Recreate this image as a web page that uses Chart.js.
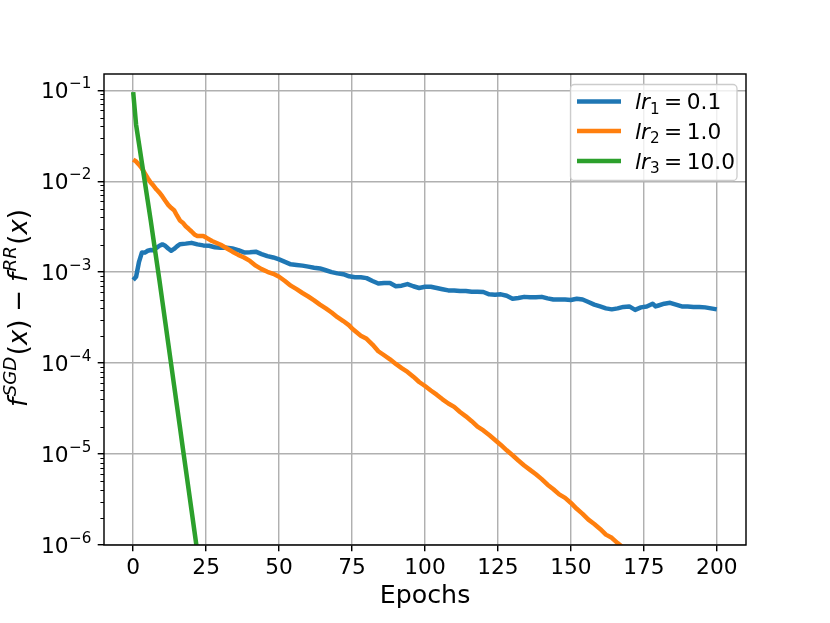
<!DOCTYPE html>
<html>
<head>
<meta charset="utf-8">
<script src="https://cdn.jsdelivr.net/npm/chart.js@4.4.0/dist/chart.umd.min.js"></script>
<style>
html,body{margin:0;padding:0;background:#fff;}
canvas{display:block;}
</style>
</head>
<body>
<canvas id="c" width="830" height="623"></canvas>
<script>
// ---------------- DATA ----------------
const xTickValues = [0, 25, 50, 75, 100, 125, 150, 175, 200];
const yTickValues = [1e-6, 1e-5, 1e-4, 1e-3, 1e-2, 1e-1];
const yTickExponents = ['−6', '−5', '−4', '−3', '−2', '−1'];

const legendSubs = ['1', '2', '3'];
const legendValues = ['0.1', '1.0', '10.0'];

const blueEpochs = [0,1,2,3,4,5,6,7,8,9,10,11,12,13,14,15,16,18,20,22,24,26,28,30,32,34,36,38,40,42,44,46,48,50,52,54,56,58,60,62,64,66,68,70,72,74,76,78,80,82,84,86,88,90,92,94,96,98,100,102,104,106,108,110,112,114,116,118,120,122,124,126,128,130,132,134,136,138,140,142,144,146,148,150,152,154,156,158,160,162,164,166,168,170,172,174,176,178,179,180,182,184,186,188,190,192,194,196,198,200];
const blueValues = [8.2e-4,8.9e-4,1.3e-3,1.65e-3,1.64e-3,1.72e-3,1.75e-3,1.74e-3,1.85e-3,1.95e-3,2.02e-3,1.95e-3,1.82e-3,1.72e-3,1.8e-3,1.92e-3,2.03e-3,2.06e-3,2.1e-3,2.02e-3,1.97e-3,1.95e-3,1.88e-3,1.85e-3,1.86e-3,1.82e-3,1.75e-3,1.65e-3,1.66e-3,1.68e-3,1.58e-3,1.5e-3,1.45e-3,1.38e-3,1.3e-3,1.22e-3,1.2e-3,1.18e-3,1.15e-3,1.12e-3,1.1e-3,1.05e-3,1.0e-3,9.7e-4,9.5e-4,9.0e-4,8.8e-4,8.8e-4,8.6e-4,8.0e-4,7.5e-4,7.6e-4,7.6e-4,7.0e-4,7.1e-4,7.4e-4,7.0e-4,6.7e-4,6.9e-4,6.9e-4,6.7e-4,6.5e-4,6.3e-4,6.3e-4,6.2e-4,6.2e-4,6.1e-4,6.1e-4,6.05e-4,5.7e-4,5.65e-4,5.7e-4,5.5e-4,5.1e-4,5.2e-4,5.35e-4,5.3e-4,5.3e-4,5.35e-4,5.15e-4,5.0e-4,5.0e-4,5.0e-4,4.95e-4,5.1e-4,5.0e-4,4.7e-4,4.4e-4,4.2e-4,4.0e-4,3.9e-4,4.0e-4,4.15e-4,4.2e-4,3.85e-4,4.1e-4,4.2e-4,4.5e-4,4.2e-4,4.3e-4,4.5e-4,4.6e-4,4.4e-4,4.2e-4,4.2e-4,4.15e-4,4.15e-4,4.1e-4,4.0e-4,3.9e-4];

const orangeEpochs = [0,1,2,3,4,5,6,7,8,9,10,11,12,13,14,15,16,17,18,19,20,21,22,24,25,27,30,32,34,36,38,40,42,44,46,48,50,52,54,56,58,60,62,64,66,68,70,72,74,75,78,80,82,84,86,88,90,92,94,96,98,100,102,104,106,108,110,112,114,116,118,120,122,124,126,128,130,132,134,136,138,140,142,144,146,148,150,152,154,156,158,160,162,164,166,168,170];
const orangeValues = [0.0173,0.0165,0.0152,0.0138,0.0122,0.0108,0.0097,0.0089,0.0081,0.0075,0.0068,0.0061,0.0055,0.0051,0.0048,0.0042,0.0037,0.0035,0.0032,0.0030,0.0028,0.0026,0.0025,0.0025,0.0024,0.0022,0.0020,0.00183,0.00168,0.00155,0.00145,0.00133,0.00118,0.00108,0.00101,0.00096,0.00089,0.00080,0.00071,0.00065,0.00059,0.00054,0.00049,0.00044,0.00040,0.00036,0.00032,0.00029,0.00026,0.00024,0.00020,0.000185,0.000160,0.000135,0.000122,0.000110,0.000098,0.000088,0.000080,0.000071,0.000062,0.000056,0.000050,0.000045,0.000040,0.000036,0.000033,0.000029,0.000026,0.000023,0.000020,0.0000182,0.0000162,0.0000143,0.0000126,0.0000110,0.0000097,0.0000085,0.0000075,0.0000067,0.0000060,0.0000053,0.0000046,0.0000041,0.0000036,0.0000033,0.0000029,0.0000025,0.0000022,0.0000019,0.0000017,0.0000015,0.0000013,0.0000012,0.00000105,0.00000093,0.00000082];

const greenEpochs = [0,1,2,3,4,5,6,7,8,9,10,11,12,13,14,15,16,17,18,19,20,21,22];
const greenValues = [0.0955,0.0417,0.0257,0.0158,0.00977,0.00603,0.00372,0.00224,0.00135,8.13e-4,4.79e-4,2.82e-4,1.66e-4,9.77e-5,5.75e-5,3.39e-5,2.0e-5,1.17e-5,6.92e-6,4.07e-6,2.4e-6,1.41e-6,8.3e-7];

// ---------------- STYLE ----------------
const COLORS = ['#1f77b4', '#ff7f0e', '#2ca02c'];
const FONT = '"DejaVu Sans", "Liberation Sans", sans-serif';
const TICK_PX = 21.7;
const LABEL_PX = 26;
const LW = 4.5;

function pts(xs, ys) { return xs.map((x, i) => ({x: x, y: ys[i]})); }

function fontStr(size, italic) { return (italic ? 'italic ' : '') + size + 'px ' + FONT; }

function runsWidth(ctx, runs) {
  let w = 0;
  runs.forEach(r => { ctx.font = fontStr(r.size, r.italic); w += (r.dx || 0) + ctx.measureText(r.t).width; });
  return w;
}
function drawRuns(ctx, runs, x, y) {
  let cx = x;
  runs.forEach(r => {
    ctx.font = fontStr(r.size, r.italic);
    cx += (r.dx || 0);
    ctx.fillText(r.t, cx, y + (r.dy || 0));
    cx += ctx.measureText(r.t).width;
  });
}

const decorPlugin = {
  id: 'decor',
  afterDraw(chart) {
    const ctx = chart.ctx;
    const a = chart.chartArea;
    const ys = chart.scales.y;
    ctx.save();
    ctx.fillStyle = '#000';
    ctx.strokeStyle = '#000';
    // frame
    ctx.lineWidth = 1.44;
    ctx.strokeRect(a.left, a.top, a.right - a.left, a.bottom - a.top);
    // minor y ticks
    ctx.lineWidth = 1.0;
    for (let d = -6; d <= -1; d++) {
      for (let k = 2; k <= 9; k++) {
        const v = k * Math.pow(10, d);
        if (v > ys.max) continue;
        const py = Math.round(ys.getPixelForValue(v)) + 0.5;
        ctx.beginPath(); ctx.moveTo(a.left - 3.6, py); ctx.lineTo(a.left, py); ctx.stroke();
      }
    }
    // y tick labels
    ctx.textAlign = 'left';
    ctx.textBaseline = 'alphabetic';
    yTickValues.forEach((v, i) => {
      const py = ys.getPixelForValue(v);
      const runs = [
        {t: '10', size: TICK_PX},
        {t: yTickExponents[i], size: TICK_PX * 0.7, dy: -TICK_PX * 0.45, dx: 0.5}
      ];
      const w = runsWidth(ctx, runs);
      drawRuns(ctx, runs, a.left - 12.6 - w, py + TICK_PX * 0.729 / 2);
    });
    // x label
    ctx.font = fontStr(25.3, false);
    ctx.textAlign = 'center';
    ctx.fillText('Epochs', (a.left + a.right) / 2, 603);
    // y label (rotated)
    ctx.textAlign = 'left';
    const s = LABEL_PX, ss = LABEL_PX * 0.7;
    const yl = [
      {t: 'f', size: s, italic: true},
      {t: 'SGD', size: ss, italic: true, dy: -s * 0.42, dx: 1.5},
      {t: '(', size: s, dx: 1.5},
      {t: 'x', size: s, italic: true},
      {t: ')', size: s},
      {t: '−', size: s, dx: s * 0.3},
      {t: 'f', size: s, italic: true, dx: s * 0.3},
      {t: 'RR', size: ss, italic: true, dy: -s * 0.42, dx: 1.5},
      {t: '(', size: s, dx: 1.5},
      {t: 'x', size: s, italic: true},
      {t: ')', size: s}
    ];
    const wl = runsWidth(ctx, yl);
    ctx.save();
    ctx.translate(27, 308);
    ctx.rotate(-Math.PI / 2);
    drawRuns(ctx, yl, -wl / 2, 0);
    ctx.restore();
    // legend
    const L = {x: 570.5, y: 84.5, w: 166.5, h: 96, r: 4};
    ctx.beginPath();
    ctx.moveTo(L.x + L.r, L.y);
    ctx.arcTo(L.x + L.w, L.y, L.x + L.w, L.y + L.h, L.r);
    ctx.arcTo(L.x + L.w, L.y + L.h, L.x, L.y + L.h, L.r);
    ctx.arcTo(L.x, L.y + L.h, L.x, L.y, L.r);
    ctx.arcTo(L.x, L.y, L.x + L.w, L.y, L.r);
    ctx.closePath();
    ctx.fillStyle = 'rgba(255,255,255,0.8)';
    ctx.fill();
    ctx.strokeStyle = '#cccccc';
    ctx.lineWidth = 1.3;
    ctx.stroke();
    const rowY = [101.5, 131, 161];
    ctx.fillStyle = '#000';
    chart.data.datasets.forEach((ds, i) => {
      ctx.strokeStyle = ds.borderColor;
      ctx.lineWidth = LW;
      ctx.lineCap = 'butt';
      ctx.beginPath(); ctx.moveTo(577, rowY[i]); ctx.lineTo(621, rowY[i]); ctx.stroke();
      const runs = [
        {t: 'lr', size: TICK_PX, italic: true},
        {t: legendSubs[i], size: TICK_PX * 0.7, dy: TICK_PX * 0.2, dx: 0},
        {t: '=', size: TICK_PX, dx: 4.5},
        {t: legendValues[i], size: TICK_PX, dx: 4.5}
      ];
      drawRuns(ctx, runs, 635, rowY[i] + TICK_PX * 0.729 / 2);
    });
    ctx.restore();
  }
};

new Chart(document.getElementById('c'), {
  type: 'line',
  data: {
    datasets: [
      {label: 'lr1 = 0.1', data: pts(blueEpochs, blueValues), borderColor: COLORS[0], order: 2},
      {label: 'lr2 = 1.0', data: pts(orangeEpochs, orangeValues), borderColor: COLORS[1], order: 1},
      {label: 'lr3 = 10.0', data: pts(greenEpochs, greenValues), borderColor: COLORS[2], order: 0}
    ].map(d => Object.assign(d, {borderWidth: LW, pointRadius: 0, tension: 0, fill: false, clip: 0, borderJoinStyle: 'round', borderCapStyle: 'butt'}))
  },
  options: {
    responsive: false,
    devicePixelRatio: 1,
    animation: false,
    layout: {padding: {left: 0, top: 74, right: 84, bottom: 0}},
    plugins: {legend: {display: false}, tooltip: {enabled: false}},
    scales: {
      x: {
        type: 'linear', min: -10, max: 210,
        afterBuildTicks: s => { s.ticks = xTickValues.map(v => ({value: v})); },
        afterFit: s => { s.height = 78; },
        ticks: {font: {family: FONT, size: TICK_PX}, color: '#000', padding: 4, maxRotation: 0, autoSkip: false},
        grid: {color: '#b0b0b0', lineWidth: 1.44, drawTicks: true, tickLength: 6.3, tickColor: '#000', tickWidth: 1.44},
        border: {display: false}
      },
      y: {
        type: 'logarithmic', min: 1e-6, max: 0.151,
        afterBuildTicks: s => { s.ticks = yTickValues.map(v => ({value: v})); },
        afterFit: s => { s.width = 104; },
        ticks: {display: false},
        grid: {color: '#b0b0b0', lineWidth: 1.44, drawTicks: true, tickLength: 6.3, tickColor: '#000', tickWidth: 1.44},
        border: {display: false}
      }
    }
  },
  plugins: [decorPlugin]
});
</script>
</body>
</html>
